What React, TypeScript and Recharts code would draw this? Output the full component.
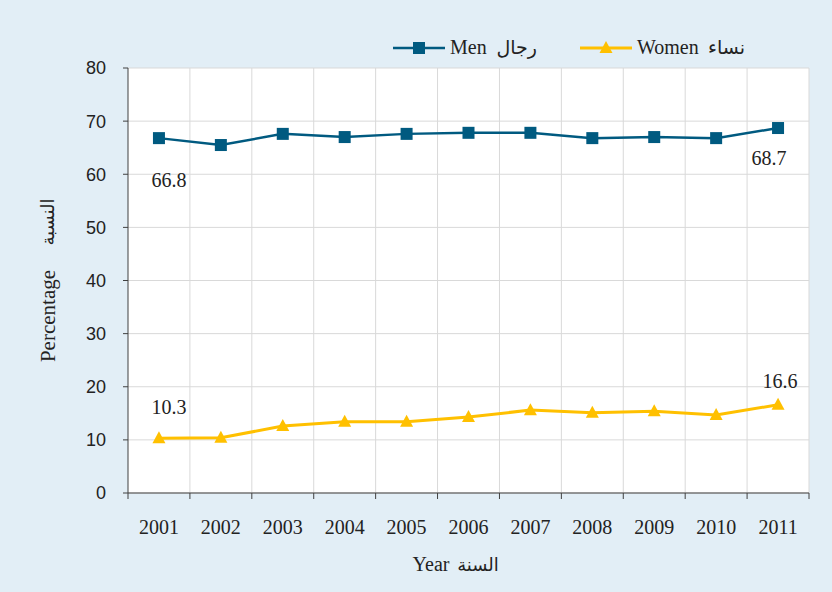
import React from 'react';
import { LineChart, Line, XAxis, YAxis, CartesianGrid, Legend, LabelList, Label } from 'recharts';

const years = ['2001', '2002', '2003', '2004', '2005', '2006', '2007', '2008', '2009', '2010', '2011'];
const menValues = [66.8, 65.5, 67.6, 67.0, 67.6, 67.8, 67.8, 66.8, 67.0, 66.8, 68.7];
const womenValues = [10.3, 10.4, 12.6, 13.4, 13.4, 14.3, 15.6, 15.1, 15.4, 14.7, 16.6];
const yTicks = [0, 10, 20, 30, 40, 50, 60, 70, 80];

const data = years.map((y, i) => ({ year: y, men: menValues[i], women: womenValues[i] }));

const W = 832;
const H = 592;
const MARGIN = { top: 68, right: 23, bottom: 59, left: 68 };
const Y_WIDTH = 60;
const PLOT_W = W - MARGIN.left - MARGIN.right - Y_WIDTH;
const HALF = PLOT_W / years.length / 2;

const MEN = '#005a80';
const WOMEN = '#ffc000';
const AXIS = '#404040';
const GRID = '#d9d9d9';
const BG = '#e2eef6';
const SERIF = "'Liberation Serif', 'Times New Roman', 'DejaVu Sans', serif";
const SANS = "'Liberation Sans', Arial, sans-serif";

const XTick = (props: any) => {
  const { x, y, payload, index } = props;
  return (
    <g>
      <line x1={x - HALF} x2={x - HALF} y1={y} y2={y + 6} stroke={AXIS} strokeWidth={1} />
      {index === years.length - 1 && (
        <line x1={x + HALF} x2={x + HALF} y1={y} y2={y + 6} stroke={AXIS} strokeWidth={1} />
      )}
      <text x={x} y={y + 41} textAnchor="middle" fontFamily={SERIF} fontSize={20} fill="#222">
        {payload.value}
      </text>
    </g>
  );
};

const SquareDot = (props: any) => {
  const { cx, cy, index } = props;
  return <rect key={`s${index}`} x={cx - 6} y={cy - 6} width={12} height={12} fill={MEN} />;
};

const TriDot = (props: any) => {
  const { cx, cy, index } = props;
  return (
    <polygon
      key={`t${index}`}
      points={`${cx},${cy - 7} ${cx - 6.5},${cy + 5} ${cx + 6.5},${cy + 5}`}
      fill={WOMEN}
    />
  );
};

const menLabelOffsets: Record<number, [number, number]> = { 0: [10, 49], 10: [-9, 37] };
const womenLabelOffsets: Record<number, [number, number]> = { 0: [10, -24], 10: [2, -17] };

const makeLabel = (offsets: Record<number, [number, number]>) => (props: any) => {
  const { x, y, value, index } = props;
  const off = offsets[index];
  if (!off) return null;
  return (
    <text key={`l${index}`} x={x + off[0]} y={y + off[1]} textAnchor="middle" fontFamily={SERIF} fontSize={20} fill="#222">
      {Number(value).toFixed(1)}
    </text>
  );
};

const LegendContent = () => (
  <svg width={W} height={30}>
    <line x1={393} x2={445} y1={15} y2={15} stroke={MEN} strokeWidth={2.5} />
    <rect x={413} y={9} width={12} height={12} fill={MEN} />
    <text x={450} y={21} fontFamily={SERIF} fontSize={20} fill="#222">Men</text>
    <text x={537} y={21} textAnchor="end" fontFamily={SERIF} fontSize={19} fill="#222">رجال</text>
    <line x1={580} x2={632} y1={15} y2={15} stroke={WOMEN} strokeWidth={3} />
    <polygon points="606,8 599.5,20 612.5,20" fill={WOMEN} />
    <text x={637} y={21} fontFamily={SERIF} fontSize={20} fill="#222">Women</text>
    <text x={745} y={21} textAnchor="end" fontFamily={SERIF} fontSize={19} fill="#222">نساء</text>
  </svg>
);

const YLabel = () => (
  <g>
    <text
      x={48}
      y={316}
      transform="rotate(-90 48 316)"
      textAnchor="middle"
      dominantBaseline="central"
      fontFamily={SERIF}
      fontSize={21}
      fill="#222"
    >
      Percentage
    </text>
    <text
      x={48}
      y={222}
      transform="rotate(-90 48 222)"
      textAnchor="middle"
      dominantBaseline="central"
      fontFamily={SERIF}
      fontSize={18}
      fill="#222"
    >
      النسبة
    </text>
  </g>
);

const XLabel = () => (
  <g>
    <text x={431} y={571} textAnchor="middle" fontFamily={SERIF} fontSize={20} fill="#222">Year</text>
    <text x={478} y={571} textAnchor="middle" fontFamily={SERIF} fontSize={18} fill="#222">السنة</text>
  </g>
);

export default function App() {
  return (
    <div style={{ position: 'absolute', left: 0, top: 0, width: W, height: H, background: BG }}>
      <LineChart width={W} height={H} data={data} margin={MARGIN}>
        <CartesianGrid
          stroke={GRID}
          fill="#ffffff"
          fillOpacity={1}
          verticalCoordinatesGenerator={({ offset }: any) =>
            years.map((_, i) => offset.left + ((i + 1) * offset.width) / years.length)
          }
        />
        <XAxis
          dataKey="year"
          height={40}
          padding={{ left: HALF, right: HALF }}
          tickLine={false}
          tickSize={0}
          tickMargin={0}
          axisLine={{ stroke: AXIS }}
          tick={<XTick />}
          interval={0}
        >
          <Label content={<XLabel />} />
        </XAxis>
        <YAxis
          width={Y_WIDTH}
          domain={[0, 80]}
          ticks={yTicks}
          tickSize={5}
          tickMargin={17}
          tickLine={{ stroke: AXIS }}
          axisLine={{ stroke: AXIS }}
          tick={{ fontFamily: SANS, fontSize: 18, fill: '#222' }}
          interval={0}
        >
          <Label content={<YLabel />} />
        </YAxis>
        <Legend verticalAlign="middle" align="center" layout="horizontal" wrapperStyle={{ top: 33, left: 0, width: W }} content={<LegendContent />} />
        <Line
          dataKey="men"
          stroke={MEN}
          strokeWidth={2.5}
          dot={<SquareDot />}
          activeDot={false}
          isAnimationActive={false}
        >
          <LabelList dataKey="men" content={makeLabel(menLabelOffsets)} />
        </Line>
        <Line
          dataKey="women"
          stroke={WOMEN}
          strokeWidth={3}
          dot={<TriDot />}
          activeDot={false}
          isAnimationActive={false}
        >
          <LabelList dataKey="women" content={makeLabel(womenLabelOffsets)} />
        </Line>
      </LineChart>
    </div>
  );
}
